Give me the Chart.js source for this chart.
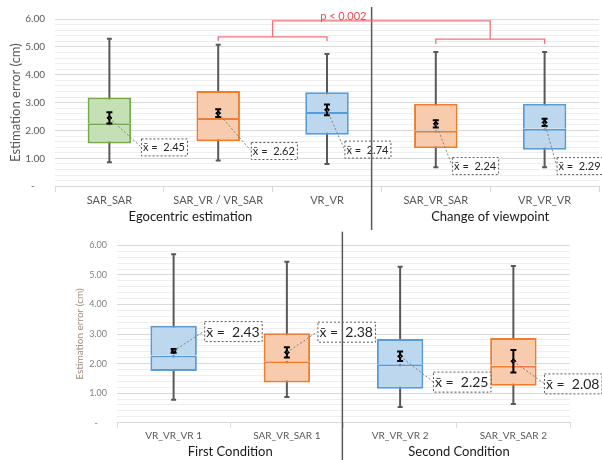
<!DOCTYPE html>
<html>
<head>
<meta charset="utf-8">
<script src="https://cdn.jsdelivr.net/npm/chart.js@4.4.1/dist/chart.umd.min.js"></script>
<style>
  html, body { margin: 0; padding: 0; background: #fff; overflow: hidden; }
  .panel { position: absolute; left: 0; width: 604px; height: 230px; }
</style>
</head>
<body>
<div class="panel" style="top:0"><canvas id="topChart"></canvas></div>
<div class="panel" style="top:230px"><canvas id="bottomChart"></canvas></div>
<script>
// top panel: egocentric estimation / change of viewpoint
const topCats = ['SAR_SAR', 'SAR_VR / VR_SAR', 'VR_VR', 'SAR_VR_SAR', 'VR_VR_VR'];
const topMin = [0.86, 0.92, 0.80, 0.68, 0.68];
const topQ1 = [1.53, 1.61, 1.85, 1.36, 1.31];
const topMedian = [2.26, 2.45, 2.66, 1.99, 2.06];
const topQ3 = [3.18, 3.42, 3.37, 2.96, 2.96];
const topMax = [5.29, 5.08, 4.74, 4.82, 4.82];
const topMean = [2.45, 2.62, 2.74, 2.24, 2.29];
const topMeanErr = [0.20, 0.14, 0.19, 0.13, 0.13];

// bottom panel: first / second condition
const bottomCats = ['VR_VR_VR 1', 'SAR_VR_SAR 1', 'VR_VR_VR 2', 'SAR_VR_SAR 2'];
const bottomMin = [0.78, 0.87, 0.53, 0.63];
const bottomQ1 = [1.75, 1.36, 1.15, 1.25];
const bottomMedian = [2.27, 2.08, 1.98, 1.93];
const bottomQ3 = [3.28, 3.03, 2.83, 2.87];
const bottomMax = [5.70, 5.45, 5.28, 5.30];
const bottomMean = [2.43, 2.38, 2.25, 2.08];
const bottomMeanErr = [0.06, 0.17, 0.16, 0.38];

const GREEN = ['#c5e0b4', '#70ad47'];
const ORANGE = ['#f8cbad', '#ed7d31'];
const BLUE = ['#bdd7ee', '#5b9bd5'];
const topColors = [GREEN, ORANGE, BLUE, ORANGE, BLUE];
const bottomColors = [BLUE, ORANGE, BLUE, ORANGE];

// where the mean call-outs sit: [category offset, value at box middle]
const topLabelAt = [[0.29, 1.41], [0.30, 1.28], [0.16, 1.33], [0.15, 0.74], [0.11, 0.74]];
const bottomLabelAt = [[0.27, 3.10], [0.27, 3.08], [0.29, 1.39], [0.27, 1.33]];

const isMajor = v => Math.abs(v - Math.round(v)) < 1e-6;

function boxPlugin(p) {
  return {
    id: 'boxExtras',
    beforeDatasetsDraw(chart) {
      const { ctx, scales: { x, y } } = chart;
      ctx.save();
      ctx.strokeStyle = '#595959';
      ctx.lineWidth = 2;
      p.min.forEach((lo, i) => {
        const cx = x.getPixelForValue(i);
        ctx.beginPath();
        ctx.moveTo(cx, y.getPixelForValue(lo));
        ctx.lineTo(cx, y.getPixelForValue(p.max[i]));
        [lo, p.max[i]].forEach(v => {
          const py = y.getPixelForValue(v);
          ctx.moveTo(cx - 2.5, py);
          ctx.lineTo(cx + 2.5, py);
        });
        ctx.stroke();
      });
      ctx.restore();
    },
    afterDatasetsDraw(chart) {
      const { ctx, scales: { x, y } } = chart;
      ctx.save();
      // error bars on the means
      ctx.strokeStyle = '#000';
      ctx.lineWidth = 2;
      p.mean.forEach((m, i) => {
        const cx = x.getPixelForValue(i);
        const y1 = y.getPixelForValue(m - p.err[i]), y2 = y.getPixelForValue(m + p.err[i]);
        ctx.beginPath();
        ctx.moveTo(cx, y1); ctx.lineTo(cx, y2);
        ctx.moveTo(cx - 3, y1); ctx.lineTo(cx + 3, y1);
        ctx.moveTo(cx - 3, y2); ctx.lineTo(cx + 3, y2);
        ctx.stroke();
      });
      // mean call-outs
      ctx.font = p.labelFont + 'px Lato';
      ctx.textBaseline = 'middle';
      p.mean.forEach((m, i) => {
        const cx = x.getPixelForValue(i), cy = y.getPixelForValue(m);
        const lx = x.getPixelForValue(i + p.labelAt[i][0]);
        const ly = y.getPixelForValue(p.labelAt[i][1]);
        const txt = 'x\u0304 =  ' + m.toFixed(2);
        const w = ctx.measureText(txt).width + 4, h = p.labelFont + 6;
        ctx.strokeStyle = '#7f7f7f';
        ctx.lineWidth = 1;
        ctx.setLineDash([2, 2]);
        ctx.beginPath();
        ctx.moveTo(cx, cy); ctx.lineTo(lx, ly);
        ctx.stroke();
        ctx.fillStyle = '#fff';
        ctx.fillRect(lx, ly - h / 2, w, h);
        ctx.strokeStyle = '#595959';
        ctx.strokeRect(lx + 0.5, ly - h / 2 + 0.5, w, h);
        ctx.setLineDash([]);
        ctx.fillStyle = '#262626';
        ctx.fillText(txt, lx + 2, ly + 1);
      });
      // group captions under the axis
      ctx.fillStyle = '#1a1a1a';
      ctx.font = '13px Lato';
      ctx.textAlign = 'center';
      p.groups.forEach(g => ctx.fillText(g[0], x.getPixelForValue(g[1]), p.groupY));
      // divider
      ctx.strokeStyle = '#595959';
      ctx.lineWidth = 1.5;
      ctx.beginPath();
      ctx.moveTo(x.getPixelForValue(p.divider), p.dividerTop);
      ctx.lineTo(x.getPixelForValue(p.divider), chart.height);
      ctx.stroke();
      if (p.extra) p.extra(chart);
      ctx.restore();
    }
  };
}

function significance(chart) {
  const { ctx, scales: { x, y } } = chart;
  const px = v => x.getPixelForValue(v), py = v => y.getPixelForValue(v);
  ctx.strokeStyle = '#f0747a';
  ctx.lineWidth = 1.3;
  ctx.beginPath();
  ctx.moveTo(px(1.5), py(5.36)); ctx.lineTo(px(1.5), py(5.93));
  ctx.lineTo(px(3.5), py(5.93)); ctx.lineTo(px(3.5), py(5.28));
  ctx.moveTo(px(1), py(5.21)); ctx.lineTo(px(1), py(5.36));
  ctx.lineTo(px(2), py(5.36)); ctx.lineTo(px(2), py(5.21));
  ctx.moveTo(px(3), py(5.10)); ctx.lineTo(px(3), py(5.28));
  ctx.lineTo(px(4), py(5.28)); ctx.lineTo(px(4), py(5.10));
  ctx.stroke();
  ctx.fillStyle = '#ea4a52';
  ctx.font = '11px Lato';
  ctx.textAlign = 'center';
  ctx.textBaseline = 'middle';
  ctx.fillText('p < 0.002', px(2.15), 16);
}

function makeChart(id, cats, min, q1, med, q3, max, mean, colors, o) {
  const fills = colors.map(c => c[0]), lines = colors.map(c => c[1]);
  return new Chart(document.getElementById(id), {
    type: 'bar',
    data: {
      labels: cats,
      datasets: [{
        type: 'line',
        data: mean,
        showLine: false,
        pointStyle: 'rectRot',
        pointRadius: 2.5,
        pointBackgroundColor: '#000',
        pointBorderColor: '#000',
        order: 0
      }, {
        data: q1.map((v, i) => [v, med[i]]),
        backgroundColor: fills,
        borderColor: lines,
        borderWidth: { top: 2, bottom: 2, left: 2, right: 2 },
        borderSkipped: false,
        grouped: false,
        barPercentage: o.barPct,
        categoryPercentage: 1,
        order: 1
      }, {
        data: med.map((v, i) => [v, q3[i]]),
        backgroundColor: fills,
        borderColor: lines,
        borderWidth: { top: 2, bottom: 0, left: 2, right: 2 },
        borderSkipped: false,
        grouped: false,
        barPercentage: o.barPct,
        categoryPercentage: 1,
        order: 1
      }]
    },
    options: {
      responsive: true,
      maintainAspectRatio: false,
      animation: false,
      layout: { padding: o.padding },
      plugins: { legend: { display: false }, tooltip: { enabled: false } },
      scales: {
        x: {
          afterFit: s => { s.height = o.xHeight; },
          grid: { offset: true, drawOnChartArea: false, drawTicks: true, tickLength: o.tickLen, color: '#d9d9d9' },
          border: { color: '#d9d9d9' },
          ticks: { font: { family: 'Lato', size: o.catFont }, color: '#595959', padding: 2, maxRotation: 0, autoSkip: false }
        },
        y: {
          min: 0,
          max: 6,
          afterFit: s => { s.width = o.yWidth; },
          grid: { drawTicks: false, color: c => isMajor(c.tick.value) ? '#d9d9d9' : '#eeeeee' },
          border: { display: false },
          ticks: {
            stepSize: 0.2,
            maxTicksLimit: 100,
            autoSkip: false,
            padding: 10,
            font: { family: 'Lato', size: o.tickFont },
            color: o.tickColor,
            callback: v => isMajor(v) ? (Math.round(v) === 0 ? '-    ' : v.toFixed(2)) : ''
          },
          title: {
            display: true,
            text: 'Estimation error (cm)',
            font: { family: 'Lato', size: o.titleFont },
            color: o.titleColor,
            padding: { top: o.titlePad, bottom: 0 }
          }
        }
      }
    },
    plugins: [boxPlugin({
      min, max, mean, err: o.err, labelAt: o.labelAt, labelFont: o.labelFont,
      groups: o.groups, groupY: o.groupY, divider: o.divider, dividerTop: o.dividerTop, extra: o.extra
    })]
  });
}

makeChart('topChart', topCats, topMin, topQ1, topMedian, topQ3, topMax, topMean, topColors, {
  padding: { left: 0, right: 0, top: 19, bottom: 0 },
  xHeight: 43.8, yWidth: 55, tickLen: 6, barPct: 0.4,
  catFont: 11, tickFont: 10, tickColor: '#595959',
  titleFont: 13, titleColor: '#595959', titlePad: 8,
  err: topMeanErr, labelAt: topLabelAt, labelFont: 11,
  groups: [['Egocentric estimation', 0.745], ['Change of viewpoint', 3.5]], groupY: 217,
  divider: 2.41, dividerTop: 7, extra: significance
});

makeChart('bottomChart', bottomCats, bottomMin, bottomQ1, bottomMedian, bottomQ3, bottomMax, bottomMean, bottomColors, {
  padding: { left: 60, right: 34, top: 12.7, bottom: 0 },
  xHeight: 37.3, yWidth: 57, tickLen: 5, barPct: 0.41,
  catFont: 10, tickFont: 9, tickColor: '#808080',
  titleFont: 10, titleColor: '#9c8b7a', titlePad: 14,
  err: bottomMeanErr, labelAt: bottomLabelAt, labelFont: 14,
  groups: [['First Condition', 0.5], ['Second Condition', 2.52]], groupY: 221.7,
  divider: 1.49, dividerTop: 1.7, extra: null
});
</script>
</body>
</html>
